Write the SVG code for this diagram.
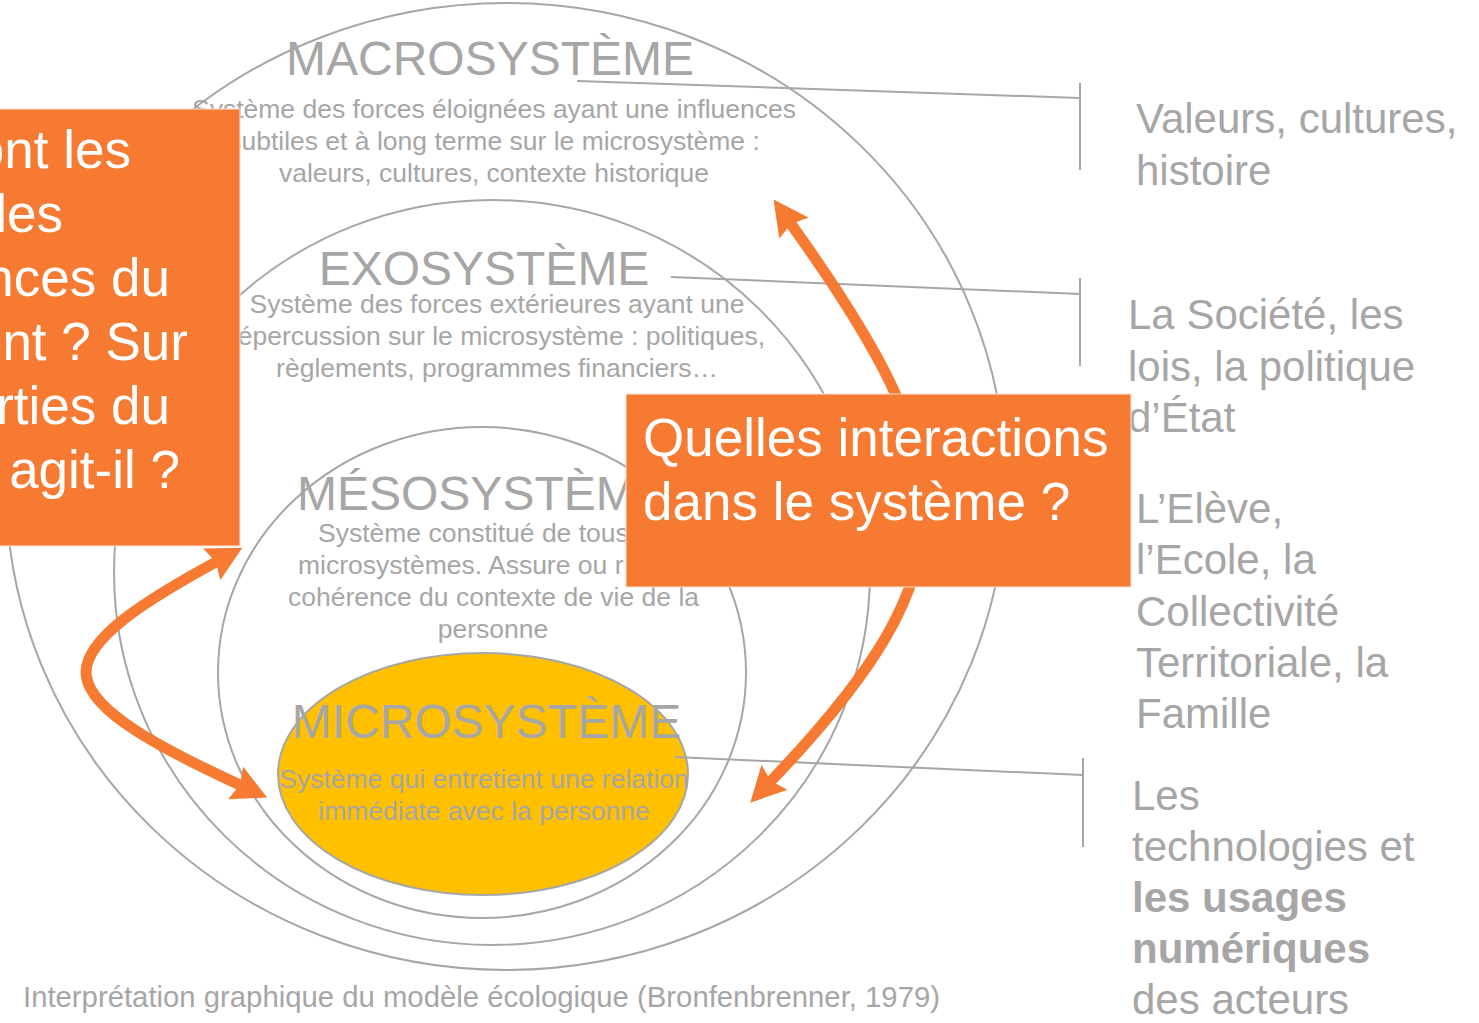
<svg xmlns="http://www.w3.org/2000/svg" width="1479" height="1023" viewBox="0 0 1479 1023">
<style>
  .ring{fill:none;stroke:#A6A6A6;stroke-width:2}
  .conn{fill:none;stroke:#A6A6A6;stroke-width:2}
  .arrow{fill:none;stroke:#F67A31;stroke-width:11}
  .box{fill:#F67A31;stroke:#FBE3D4;stroke-width:1}
  .hdr{font-family:"Liberation Sans",Arial,sans-serif;font-size:48px;fill:#A6A6A6;text-anchor:middle}
  .desc{font-family:"Liberation Sans",Arial,sans-serif;font-size:26.5px;fill:#A6A6A6;text-anchor:middle}
  .side{font-family:"Liberation Sans",Arial,sans-serif;font-size:42px;fill:#A6A6A6}
  .q{font-family:"Liberation Sans",Arial,sans-serif;font-size:53px;fill:#FFFFFF}
  .foot{font-family:"Liberation Sans",Arial,sans-serif;font-size:29.3px;fill:#A6A6A6}
</style>
<defs>
  <marker id="head" viewBox="0 0 35 36" refX="5" refY="18" markerWidth="35" markerHeight="36" markerUnits="userSpaceOnUse" orient="auto-start-reverse">
    <path d="M0,0 L35,18 L0,36 L5,18 Z" fill="#F67A31"/>
  </marker>
</defs>
<rect width="1479" height="1023" fill="#FFFFFF"/>

<g id="macrosysteme">
  <ellipse class="ring" cx="506" cy="486.5" rx="500" ry="483.5"/>
  <text class="hdr" x="490" y="75">MACROSYSTÈME</text>
  <text class="desc" x="494" y="118">Système des forces éloignées ayant une influences</text>
  <text class="desc" x="494" y="150">subtiles et à long terme sur le microsystème :</text>
  <text class="desc" x="494" y="182">valeurs, cultures, contexte historique</text>
</g>

<g id="exosysteme">
  <ellipse class="ring" cx="492" cy="572.5" rx="378" ry="372.5"/>
  <text class="hdr" x="484" y="285">EXOSYSTÈME</text>
  <text class="desc" x="497" y="313">Système des forces extérieures ayant une</text>
  <text class="desc" x="497" y="345">répercussion sur le microsystème : politiques,</text>
  <text class="desc" x="497" y="377">règlements, programmes financiers…</text>
</g>

<g id="mesosysteme">
  <ellipse class="ring" cx="482" cy="672.5" rx="264" ry="245.5"/>
  <text class="hdr" x="297" y="510" style="text-anchor:start">MÉSOSYSTÈME</text>
  <text class="desc" x="318" y="542" style="text-anchor:start">Système constitué de tous</text>
  <text class="desc" x="298" y="574" style="text-anchor:start">microsystèmes. Assure ou r</text>
  <text class="desc" x="493.5" y="606">cohérence du contexte de vie de la</text>
  <text class="desc" x="493" y="638">personne</text>
</g>

<g id="microsysteme">
  <ellipse cx="483" cy="774" rx="205" ry="121" fill="#FFC000" stroke="#A6A6A6" stroke-width="2"/>
  <text class="hdr" x="486.5" y="738">MICROSYSTÈME</text>
  <text class="desc" x="484" y="788">Système qui entretient une relation</text>
  <text class="desc" x="484" y="820">immédiate avec la personne</text>
</g>

<g id="connectors">
  <polyline class="conn" points="577,81 1080,98"/>
  <line class="conn" x1="1080" y1="83" x2="1080" y2="170"/>
  <polyline class="conn" points="671,277 1080,294"/>
  <line class="conn" x1="1080" y1="278" x2="1080" y2="366"/>
  <polyline class="conn" points="675,757 1083,775"/>
  <line class="conn" x1="1083" y1="758" x2="1083" y2="847"/>
  <path class="arrow" d="M216,562 C150,598 80,640 86.5,677 C92,712 160,748 240,785" marker-start="url(#head)" marker-end="url(#head)"/>
  <path class="arrow" d="M791,224 C965,467 978,565 771,781" marker-start="url(#head)" marker-end="url(#head)"/>
</g>

<g id="label-valeurs">
  <text class="side" x="1136" y="133">Valeurs, cultures,</text>
  <text class="side" x="1136" y="185">histoire</text>
</g>
<g id="label-societe">
  <text class="side" x="1128" y="329">La Société, les</text>
  <text class="side" x="1128" y="381">lois, la politique</text>
  <text class="side" x="1128" y="432">d’État</text>
</g>
<g id="label-eleve">
  <text class="side" x="1136" y="523">L’Elève,</text>
  <text class="side" x="1136" y="574">l’Ecole, la</text>
  <text class="side" x="1136" y="626">Collectivité</text>
  <text class="side" x="1136" y="677">Territoriale, la</text>
  <text class="side" x="1136" y="728">Famille</text>
</g>
<g id="label-technologies">
  <text class="side" x="1132" y="810">Les</text>
  <text class="side" x="1132" y="861">technologies et</text>
  <text class="side" x="1132" y="912" font-weight="bold">les usages</text>
  <text class="side" x="1132" y="963" font-weight="bold">numériques</text>
  <text class="side" x="1132" y="1014">des acteurs</text>
</g>

<g id="box-left">
  <rect class="box" x="-10" y="109" width="250" height="437"/>
  <text class="q" x="131" y="168" text-anchor="end">ont les</text>
  <text class="q" x="63" y="232" text-anchor="end">les</text>
  <text class="q" x="170" y="296" text-anchor="end">nces du</text>
  <text class="q" x="188" y="360" text-anchor="end">ent ? Sur</text>
  <text class="q" x="170" y="424" text-anchor="end">rties du</text>
  <text class="q" x="180" y="488" text-anchor="end">agit-il ?</text>
</g>

<g id="box-right">
  <rect class="box" x="626" y="394" width="505" height="193"/>
  <text class="q" x="643" y="456">Quelles interactions</text>
  <text class="q" x="643" y="520">dans le système ?</text>
</g>

<g id="caption">
  <text class="foot" x="23" y="1007">Interprétation graphique du modèle écologique (Bronfenbrenner, 1979)</text>
</g>
</svg>
